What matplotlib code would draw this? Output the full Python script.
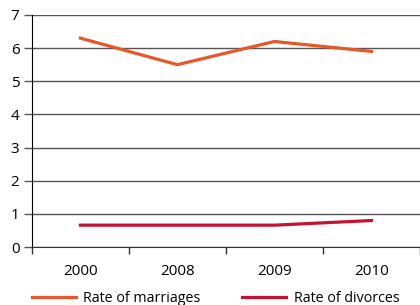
import matplotlib.pyplot as plt

years = ['2000', '2008', '2009', '2010']
marriages = [6.3, 5.5, 6.2, 5.9]
divorces = [0.66, 0.66, 0.66, 0.8]

plt.rcParams['font.family'] = ['Open Sans', 'DejaVu Sans']

fig = plt.figure(figsize=(4.2, 3.05), dpi=100)
ax = fig.add_axes([0.076, 0.19, 0.924, 0.761])

x = range(len(years))
ax.plot(x, marriages, color='#E8562A', lw=2.3, label='Rate of marriages')
ax.plot(x, divorces, color='#C41230', lw=2.3, label='Rate of divorces')

ax.set_xlim(-0.5, len(years) - 0.5)
ax.set_ylim(0, 7)
ax.set_yticks(range(8))
ax.yaxis.grid(True, color='#555555', lw=1.0)
ax.set_axisbelow(True)

ax.set_xticks(list(x))
ax.set_xticklabels(years)
ax.set_xticks([i - 0.5 for i in range(len(years) + 1)], minor=True)
ax.tick_params(axis='x', which='major', length=0, pad=12, labelsize=11)
ax.tick_params(axis='x', which='minor', length=5, width=1, color='#333333')
ax.tick_params(axis='y', length=6, width=1, color='#555555', labelsize=11, pad=3)

for s in ['top', 'right']:
    ax.spines[s].set_visible(False)
ax.spines['left'].set_color('black')
ax.spines['bottom'].set_color('#333333')

fig.legend(loc='lower left', bbox_to_anchor=(0.045, -0.045), ncol=2, frameon=False,
           fontsize=10.3, handlelength=3.1, handletextpad=0.5, columnspacing=2.9)

fig.savefig('out.png', dpi=100)
